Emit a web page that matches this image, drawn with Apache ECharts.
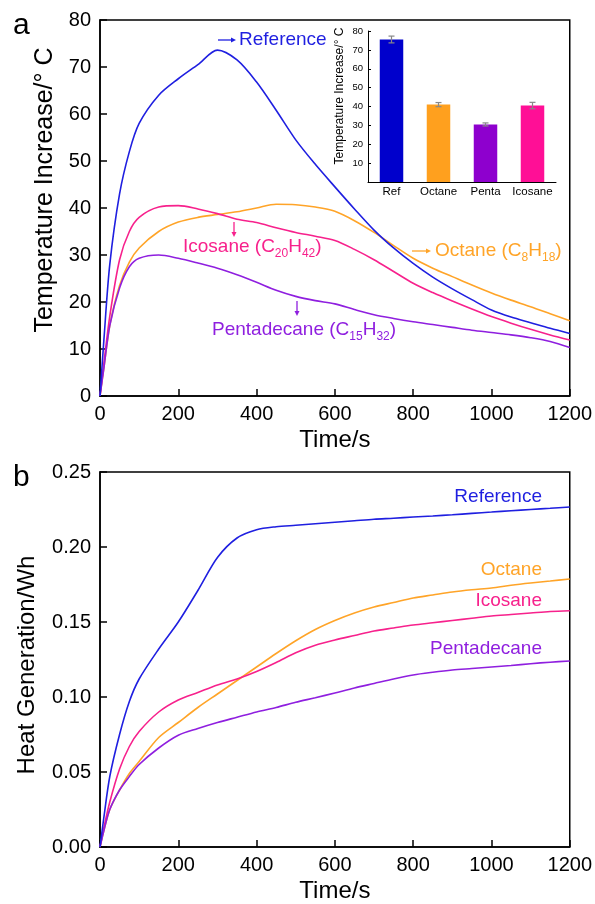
<!DOCTYPE html>
<html>
<head>
<meta charset="utf-8">
<script src="https://cdn.jsdelivr.net/npm/echarts@6/dist/echarts.min.js"></script>
<style>
html,body{margin:0;padding:0;background:#fff}
#main{width:595px;height:904px}
</style>
</head>
<body>
<div id="main"></div>
<script>
// time points (s)
var timeS = [0, 10, 25, 50, 75, 100, 150, 200, 250, 300, 350, 400, 450, 500, 550, 600, 650, 700, 750, 800, 850, 900, 950, 1000, 1050, 1100, 1150, 1200];

// a: temperature increase (deg C)
var tempRef   = [0, 12, 28, 43, 52, 58, 64, 67.5, 70.5, 73.6, 71.5, 66.8, 60.8, 54.5, 49.3, 44.5, 39.8, 35.3, 31.5, 28.2, 25.3, 22.8, 20.5, 18.3, 16.8, 15.6, 14.4, 13.3];
var tempOct   = [0, 6, 15, 23.5, 28.5, 31.5, 35, 37, 38, 38.6, 39.2, 40, 40.8, 40.7, 40.2, 39.3, 37.3, 34.8, 32, 29.3, 27.2, 25.4, 23.6, 21.9, 20.4, 19, 17.5, 16];
var tempIco   = [0, 7, 17, 29, 35, 38, 40.2, 40.5, 39.8, 38.8, 37.6, 36.9, 35.8, 34.8, 34, 33.1, 31.2, 29, 26.5, 24, 22, 20.2, 18.5, 16.9, 15.5, 14.2, 13, 11.9];
var tempPenta = [0, 6, 15, 23, 27.5, 29.3, 30, 29.3, 28.3, 27.2, 25.8, 24.2, 22.5, 21.2, 20.3, 19.6, 18.4, 17.3, 16.5, 15.8, 15.2, 14.6, 14, 13.5, 13, 12.4, 11.6, 10.3];

// b: heat generation (Wh)
var heatRef   = [0, 0.02, 0.047, 0.075, 0.097, 0.112, 0.132, 0.150, 0.171, 0.193, 0.206, 0.2115, 0.2135, 0.2145, 0.2155, 0.2165, 0.2175, 0.2185, 0.2192, 0.22, 0.2207, 0.2215, 0.2224, 0.2233, 0.2242, 0.225, 0.2258, 0.2267];
var heatOct   = [0, 0.011, 0.025, 0.038, 0.049, 0.057, 0.073, 0.083, 0.093, 0.102, 0.111, 0.12, 0.129, 0.1375, 0.145, 0.151, 0.156, 0.16, 0.163, 0.166, 0.168, 0.17, 0.1715, 0.1727, 0.1745, 0.176, 0.1773, 0.1787];
var heatIco   = [0, 0.013, 0.03, 0.052, 0.067, 0.077, 0.09, 0.098, 0.103, 0.108, 0.112, 0.117, 0.123, 0.1295, 0.1345, 0.138, 0.141, 0.144, 0.146, 0.148, 0.1495, 0.151, 0.1525, 0.154, 0.155, 0.156, 0.157, 0.1575];
var heatPenta = [0, 0.011, 0.025, 0.038, 0.047, 0.055, 0.066, 0.0745, 0.079, 0.083, 0.0865, 0.09, 0.093, 0.0965, 0.0995, 0.1027, 0.106, 0.109, 0.112, 0.1147, 0.1165, 0.118, 0.119, 0.12, 0.121, 0.1222, 0.1232, 0.124];

// inset: peak temperature increase
var barCats = ['Ref', 'Octane', 'Penta', 'Icosane'];
var barVals = [75.5, 41, 30.5, 40.5];
var barErrs = [1.8, 1.1, 0.8, 1.7];

var cRef = '#1f1fe0', cOct = '#ffa428', cIco = '#f7218c', cPenta = '#8f1fdf';
var barColors = ['#0000cc', '#ffa01e', '#8e00ce', '#ff0f96'];
var FONT = 'Liberation Sans, Arial, sans-serif';

function pairs(xs, ys) {
    var out = [];
    for (var i = 0; i < xs.length; i++) {
        out.push([xs[i], ys[i]]);
    }
    return out;
}

function lineSeries(idx, ys, color) {
    return {
        type: 'line',
        xAxisIndex: idx,
        yAxisIndex: idx,
        data: pairs(timeS, ys),
        smooth: 0.3,
        showSymbol: false,
        lineStyle: {color: color, width: 1.6},
        silent: true
    };
}

var mainXAxis = function (gi) {
    return {
        type: 'value',
        gridIndex: gi,
        min: 0, max: 1200, interval: 200,
        name: 'Time/s',
        nameLocation: 'middle',
        nameGap: 32,
        nameTextStyle: {fontFamily: FONT, fontSize: 24, color: '#000'},
        axisLine: {show: true, onZero: false, lineStyle: {color: '#000', width: 1.5}},
        axisTick: {show: true, inside: true, length: 7, lineStyle: {color: '#000', width: 1.5}},
        axisLabel: {fontFamily: FONT, fontSize: 20, color: '#000', margin: 8,
            formatter: function (v) { return String(v); }},
        splitLine: {show: false}
    };
};

var mainYAxis = function (gi, max, interval, fmt) {
    return {
        type: 'value',
        gridIndex: gi,
        min: 0, max: max, interval: interval,
        axisLine: {show: true, lineStyle: {color: '#000', width: 1.5}},
        axisTick: {show: true, inside: true, length: 7, lineStyle: {color: '#000', width: 1.5}},
        axisLabel: {fontFamily: FONT, fontSize: 20, color: '#000', margin: 9, formatter: fmt},
        splitLine: {show: false}
    };
};

function label(x, y, text, color, align) {
    return {
        type: 'text', x: x, y: y, silent: true,
        style: {
            text: text, fill: color, align: align || 'left', verticalAlign: 'middle',
            font: '19px ' + FONT,
            rich: {
                n: {fontSize: 19, fontFamily: FONT, color: color, lineHeight: 24},
                s: {fontSize: 12, fontFamily: FONT, color: color, lineHeight: 12, padding: [14, 0, 0, 0]}
            }
        }
    };
}

// small arrow: shaft from (x1,y1) to (x2,y2), head at (x2,y2)
function arrow(x1, y1, x2, y2, color) {
    var ang = Math.atan2(y2 - y1, x2 - x1);
    var hl = 5, hw = 2.5;
    var bx = x2 - hl * Math.cos(ang), by = y2 - hl * Math.sin(ang);
    var px = -Math.sin(ang) * hw, py = Math.cos(ang) * hw;
    return {
        type: 'group', silent: true,
        children: [
            {type: 'line', shape: {x1: x1, y1: y1, x2: bx, y2: by}, style: {stroke: color, lineWidth: 1.3}},
            {type: 'polygon', shape: {points: [[x2, y2], [bx + px, by + py], [bx - px, by - py]]}, style: {fill: color}}
        ]
    };
}

var chart = echarts.init(document.getElementById('main'));

var option = {
    backgroundColor: '#fff',
    animation: false,
    grid: [
        {left: 100, right: 25, top: 20, bottom: 508, show: true, borderColor: '#000', borderWidth: 1.5, backgroundColor: 'transparent'},
        {left: 100, right: 25, top: 472, bottom: 57, show: true, borderColor: '#000', borderWidth: 1.5, backgroundColor: 'transparent'},
        {left: 368, right: 39, top: 31, bottom: 722}
    ],
    xAxis: [
        mainXAxis(0),
        mainXAxis(1),
        {
            type: 'category',
            gridIndex: 2,
            data: barCats,
            axisLine: {show: true, lineStyle: {color: '#000', width: 1}},
            axisTick: {show: true, inside: true, alignWithLabel: true, length: 3, lineStyle: {color: '#000'}},
            axisLabel: {fontFamily: FONT, fontSize: 11.5, color: '#000', margin: 4, interval: 0, hideOverlap: false}
        }
    ],
    yAxis: [
        mainYAxis(0, 80, 10),
        mainYAxis(1, 0.25, 0.05, function (v) { return v.toFixed(2); }),
        {
            type: 'value',
            gridIndex: 2,
            min: 0, max: 80, interval: 10,
            axisLine: {show: true, lineStyle: {color: '#000', width: 1}},
            axisTick: {show: true, inside: true, length: 3, lineStyle: {color: '#000'}},
            axisLabel: {fontFamily: FONT, fontSize: 9.5, color: '#000', margin: 5,
                formatter: function (v) { return v === 0 ? '' : v; }},
            splitLine: {show: false}
        }
    ],
    graphic: [
        {type: 'text', x: 13, y: 26, style: {text: 'a', font: '30px ' + FONT, fill: '#000', verticalAlign: 'middle'}},
        {type: 'text', x: 13, y: 478, style: {text: 'b', font: '30px ' + FONT, fill: '#000', verticalAlign: 'middle'}},
        {type: 'text', x: 45, y: 190, rotation: Math.PI / 2,
            style: {text: 'Temperature Increase/\u00b0 C', font: '25px ' + FONT, fill: '#000', align: 'center', verticalAlign: 'middle'}},
        {type: 'text', x: 27, y: 665, rotation: Math.PI / 2,
            style: {text: 'Heat Generation/Wh', font: '24px ' + FONT, fill: '#000', align: 'center', verticalAlign: 'middle'}},
        {type: 'text', x: 340, y: 96, rotation: Math.PI / 2,
            style: {text: 'Temperature Increase/\u00b0 C', font: '12px ' + FONT, fill: '#000', align: 'center', verticalAlign: 'middle'}},
        // panel a annotations
        arrow(218, 40, 236, 40, cRef),
        label(239, 40, '{n|Reference}', cRef),
        arrow(234, 222, 234, 237, cIco),
        label(183, 247, '{n|Icosane (C}{s|20}{n|H}{s|42}{n|)}', cIco),
        arrow(412, 251, 431, 251, cOct),
        label(435, 251, '{n|Octane (C}{s|8}{n|H}{s|18}{n|)}', cOct),
        arrow(297, 301, 297, 316, cPenta),
        label(212, 330, '{n|Pentadecane (C}{s|15}{n|H}{s|32}{n|)}', cPenta),
        // panel b labels
        label(542, 497, '{n|Reference}', cRef, 'right'),
        label(542, 570, '{n|Octane}', cOct, 'right'),
        label(542, 601, '{n|Icosane}', cIco, 'right'),
        label(542, 649, '{n|Pentadecane}', cPenta, 'right')
    ],
    series: [
        lineSeries(0, tempOct, cOct),
        lineSeries(0, tempIco, cIco),
        lineSeries(0, tempPenta, cPenta),
        lineSeries(0, tempRef, cRef),
        lineSeries(1, heatOct, cOct),
        lineSeries(1, heatIco, cIco),
        lineSeries(1, heatPenta, cPenta),
        lineSeries(1, heatRef, cRef),
        {
            type: 'bar',
            xAxisIndex: 2,
            yAxisIndex: 2,
            barWidth: '50%',
            data: barVals.map(function (v, i) {
                return {value: v, itemStyle: {color: barColors[i]}};
            }),
            silent: true
        },
        {
            type: 'custom',
            xAxisIndex: 2,
            yAxisIndex: 2,
            silent: true,
            z: 5,
            data: barVals.map(function (v, i) { return [i, v - barErrs[i], v + barErrs[i]]; }),
            renderItem: function (params, api) {
                var lo = api.coord([api.value(0), api.value(1)]);
                var hi = api.coord([api.value(0), api.value(2)]);
                var w = 3;
                var st = {stroke: '#888', lineWidth: 1.2};
                return {
                    type: 'group',
                    children: [
                        {type: 'line', shape: {x1: lo[0], y1: lo[1], x2: hi[0], y2: hi[1]}, style: st},
                        {type: 'line', shape: {x1: lo[0] - w, y1: lo[1], x2: lo[0] + w, y2: lo[1]}, style: st},
                        {type: 'line', shape: {x1: hi[0] - w, y1: hi[1], x2: hi[0] + w, y2: hi[1]}, style: st}
                    ]
                };
            }
        }
    ]
};

chart.setOption(option);
</script>
</body>
</html>
